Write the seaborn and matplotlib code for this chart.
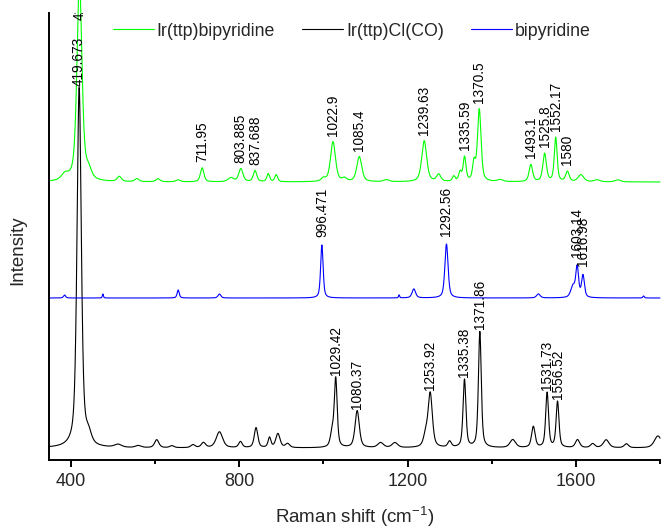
import numpy as np
import pandas as pd
import matplotlib
matplotlib.use("Agg")
import matplotlib.pyplot as plt
import seaborn as sns

# Sample names and colours
samples = ["Ir(ttp)bipyridine", "Ir(ttp)Cl(CO)", "bipyridine"]
colors = ["#00ff00", "#000000", "#0000ff"]

# Vertical offsets of the stacked spectra
baselines = {"Ir(ttp)bipyridine": 278, "Ir(ttp)Cl(CO)": 12, "bipyridine": 162}

# Peak tables: position (cm-1), height above baseline, half width (cm-1)
green_pos = [386, 420.4, 442, 515, 557, 607, 655, 711.95, 780, 803.885, 837.688,
             869, 888, 1000, 1022.9, 1050, 1085.4, 1150, 1239.63, 1274, 1310,
             1325, 1335.59, 1358, 1370.5, 1420, 1493.1, 1525.8, 1552.17, 1580,
             1612, 1650, 1700]
green_hgt = [6, 200, 9, 5, 3, 3, 2, 14, 4, 13, 11, 8, 7, 3, 40, 3, 25, 2, 41, 7,
             5, 9, 24, 18, 72, 2, 17, 28, 44, 10, 7, 2, 2]
green_wid = [10, 7, 8, 6, 6, 6, 6, 5, 8, 6, 5, 4, 4, 6, 7, 6, 7, 8, 7, 6, 4, 4,
             4, 4, 5, 8, 5, 5, 4, 5, 8, 8, 8]

black_pos = [419.673, 442, 512, 560, 604, 640, 690, 715, 753, 803, 840, 872, 892,
             915, 1021, 1029.42, 1080.37, 1136, 1170, 1243, 1253.92, 1300,
             1335.38, 1371.86, 1450, 1499, 1531.73, 1556.52, 1604, 1640, 1672,
             1720, 1795]
black_hgt = [360, 10, 3, 2, 8, 2, 3, 5, 16, 6, 20, 10, 14, 4, 14, 68, 37, 5, 5, 11,
             54, 6, 68, 116, 8, 21, 55, 46, 8, 4, 8, 4, 12]
black_wid = [6, 8, 10, 8, 6, 6, 6, 6, 9, 5, 5, 4, 6, 6, 5, 4, 6, 8, 8, 6, 6, 5, 4,
             4, 8, 5, 4, 4, 6, 6, 8, 6, 10]

blue_pos = [385, 476, 655, 753, 996.471, 1180, 1215, 1292.56, 1511, 1593,
            1603.14, 1616.98, 1761]
blue_hgt = [3, 4, 8, 4, 53, 3, 9, 54, 4, 11, 30, 22, 2]
blue_wid = [3, 1.5, 3, 4, 3.5, 1.5, 5, 4.5, 5, 6, 4, 4, 2]

# Annotated peaks for each spectrum
green_labels = [420.4, 711.95, 803.885, 837.688, 1022.9, 1085.4, 1239.63, 1335.59,
                1370.5, 1493.1, 1525.8, 1552.17, 1580]
black_labels = [419.673, 1029.42, 1080.37, 1253.92, 1335.38, 1371.86, 1531.73,
                1556.52]
blue_labels = [996.471, 1292.56, 1603.14, 1616.98]

shift = np.arange(348.0, 1800.5, 0.5)


def spectrum(x, base, pos, hgt, wid, eta=0.55):
    y = np.full_like(x, float(base))
    for p, h, w in zip(pos, hgt, wid):
        d = ((x - p) / w) ** 2
        y += h * (eta / (1 + d) + (1 - eta) * np.exp(-np.log(2) * d))
    return y


tables = {
    "Ir(ttp)bipyridine": (green_pos, green_hgt, green_wid, green_labels),
    "Ir(ttp)Cl(CO)": (black_pos, black_hgt, black_wid, black_labels),
    "bipyridine": (blue_pos, blue_hgt, blue_wid, blue_labels),
}

frames = []
curves = {}
for name in samples:
    pos, hgt, wid, _ = tables[name]
    y = spectrum(shift, baselines[name], pos, hgt, wid)
    curves[name] = y
    frames.append(pd.DataFrame({"shift": shift, "intensity": y, "sample": name}))
df = pd.concat(frames, ignore_index=True)

sns.set_style("ticks")
plt.rcParams["font.family"] = ["Liberation Sans", "DejaVu Sans"]
plt.rcParams["mathtext.fontset"] = "custom"
plt.rcParams["mathtext.rm"] = "Liberation Sans"
plt.rcParams["mathtext.it"] = "Liberation Sans:italic"

fig = plt.figure(figsize=(6.61, 5.28), dpi=100)
ax = fig.add_axes([49 / 661, 68 / 528, 611 / 661, 447 / 528])

sns.lineplot(data=df, x="shift", y="intensity", hue="sample", hue_order=samples,
             palette=colors, linewidth=0.8, estimator=None, sort=False, ax=ax)
for line in ax.lines:
    line.set_clip_on(False)

ax.set_xlim(348, 1800)
ax.set_ylim(0, 447)
ax.set_yticks([])
ax.set_xticks([400, 800, 1200, 1600])
ax.set_xticks([600, 1000, 1400, 1800], minor=True)
ax.tick_params(axis="x", which="major", length=5, width=1.4, labelsize=13, pad=4,
               direction="out", color="black")
ax.tick_params(axis="x", which="minor", length=3, width=1.4, direction="out",
               color="black")
sns.despine(ax=ax, top=True, right=True)
for side in ("left", "bottom"):
    ax.spines[side].set_linewidth(1.4)
    ax.spines[side].set_color("black")
ax.set_xlabel("")
ax.set_ylabel("")

# Peak annotations (clipped to the plotting area)
gaps = {"Ir(ttp)bipyridine": 6, "Ir(ttp)Cl(CO)": 2, "bipyridine": 8}
for name in samples:
    _, _, _, labels = tables[name]
    y = curves[name]
    for v in labels:
        win = (shift > v - 4) & (shift < v + 4)
        top = y[win].max()
        ytxt = min(top, 440)
        off = gaps[name] if top < 440 else 0
        txt = ax.annotate(f"{v:g}", xy=(v, ytxt), xytext=(0, off),
                          textcoords="offset pixels", rotation=90, ha="center",
                          va="bottom", fontsize=9.8, color="black")
        txt.set_clip_box(ax.bbox)
        txt.set_clip_on(True)

handles, labels = ax.get_legend_handles_labels()
ax.legend(handles, labels, ncol=3, frameon=False, loc="center left",
          bbox_to_anchor=((113 - 49) / 611, (460 - 31) / 447), fontsize=12.8,
          handlelength=2.3, handletextpad=0.15, columnspacing=1.55, borderpad=0,
          borderaxespad=0)

fig.text(355 / 661, 1 - 517 / 528, "Raman shift (cm$^{-1}$)", ha="center",
         va="center", fontsize=13.5)
fig.text(18 / 661, 1 - 250 / 528, "Intensity", rotation=90, ha="center",
         va="center", fontsize=13.5)

fig.savefig("out.png", dpi=100)
